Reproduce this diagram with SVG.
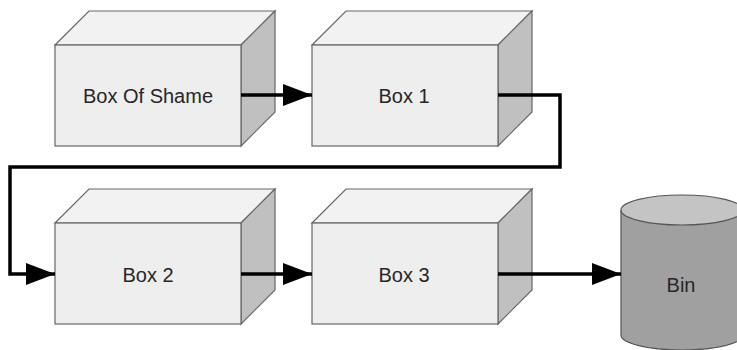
<svg xmlns="http://www.w3.org/2000/svg" width="737" height="350" viewBox="0 0 737 350">
<defs>
<style>
.front{fill:#eeeeee;stroke:#666666;stroke-width:1.2}
.top{fill:#f2f2f2;stroke:#666666;stroke-width:1.2}
.side{fill:#c0c0c0;stroke:#666666;stroke-width:1.2}
.lbl{font-family:"Liberation Sans",Arial,sans-serif;font-size:20px;fill:#262626;text-anchor:middle}
.conn{fill:none;stroke:#000000;stroke-width:3.5;stroke-linejoin:miter}
</style>
<marker id="ah" markerUnits="userSpaceOnUse" markerWidth="30" markerHeight="24" refX="29" refY="11" orient="auto">
<path d="M0,0 L29,11 L0,22 Z" fill="#000000"/>
</marker>
<g id="box3d">
<polygon class="top" points="0,34 34,0 220,0 186,34"/>
<polygon class="side" points="186,34 220,0 220,101 186,135"/>
<rect class="front" x="0" y="34" width="186" height="101"/>
</g>
</defs>
<g id="node-box-of-shame">
<use href="#box3d" x="55" y="11"/>
<text class="lbl" x="148" y="103">Box Of Shame</text>
</g>
<g id="node-box1">
<use href="#box3d" x="312" y="11"/>
<text class="lbl" x="404" y="103">Box 1</text>
</g>
<g id="node-box2">
<use href="#box3d" x="55" y="189"/>
<text class="lbl" x="148" y="282">Box 2</text>
</g>
<g id="node-box3">
<use href="#box3d" x="312" y="189"/>
<text class="lbl" x="404" y="282">Box 3</text>
</g>
<g id="node-bin">
<path d="M621,210 L621,335 A61,15 0 0 0 743,335 L743,210" fill="#a0a0a0" stroke="#555555" stroke-width="1.2"/>
<ellipse cx="682" cy="210" rx="61" ry="15" fill="#c4c4c4" stroke="#555555" stroke-width="1.2"/>
<text class="lbl" x="681" y="292">Bin</text>
</g>
<g id="connectors">
<path class="conn" d="M241,95 L312,95" marker-end="url(#ah)"/>
<path class="conn" d="M498,95 L560,95 L560,167 L10,167 L10,274 L55,274" marker-end="url(#ah)"/>
<path class="conn" d="M241,274 L312,274" marker-end="url(#ah)"/>
<path class="conn" d="M498,274 L621,274" marker-end="url(#ah)"/>
</g>
</svg>
